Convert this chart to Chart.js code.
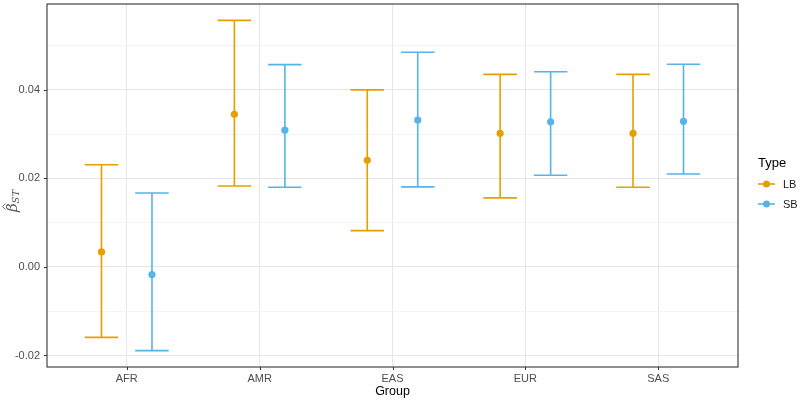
<!DOCTYPE html>
<html>
<head>
<meta charset="utf-8">
<script src="https://cdn.jsdelivr.net/npm/chart.js@4"></script>
<style>
html, body { margin: 0; padding: 0; background: #fff; }
#wrap { width: 800px; height: 402px; }
</style>
</head>
<body>
<div id="wrap"><canvas id="fstChart"></canvas></div>
<script>
// values
const groups = ['AFR', 'AMR', 'EAS', 'EUR', 'SAS'];
const lbMean = [0.0034, 0.0345, 0.0241, 0.0302, 0.0302];
const lbLower = [-0.0159, 0.0183, 0.0082, 0.0156, 0.0180];
const lbUpper = [0.0231, 0.0557, 0.0400, 0.0435, 0.0435];
const sbMean = [-0.0017, 0.0309, 0.0332, 0.0328, 0.0329];
const sbLower = [-0.0189, 0.0180, 0.0181, 0.0207, 0.0210];
const sbUpper = [0.0167, 0.0457, 0.0485, 0.0441, 0.0458];
const yTicks = [-0.02, -0.01, 0, 0.01, 0.02, 0.03, 0.04, 0.05];
const yLabelled = [-0.02, 0, 0.02, 0.04];

const dodge = 0.19;
const capHalf = 0.126;
const isMajor = v => Math.abs(Math.round(v * 100)) % 2 === 0;

function points(means, shift) {
    return means.map((m, i) => ({ x: i + 1 + shift, y: m }));
}

// whiskers + caps, drawn under the points
const errorBars = {
    id: 'errorBars',
    beforeDatasetsDraw(chart) {
        const { ctx, scales: { x, y } } = chart;
        chart.data.datasets.forEach(ds => {
            ctx.save();
            ctx.strokeStyle = ds.borderColor;
            ctx.lineWidth = 1.6;
            ds.data.forEach((pt, i) => {
                const px = x.getPixelForValue(pt.x);
                const l = x.getPixelForValue(pt.x - capHalf);
                const r = x.getPixelForValue(pt.x + capHalf);
                const top = y.getPixelForValue(ds.upper[i]);
                const bot = y.getPixelForValue(ds.lower[i]);
                ctx.beginPath();
                ctx.moveTo(px, top); ctx.lineTo(px, bot);
                ctx.moveTo(l, top); ctx.lineTo(r, top);
                ctx.moveTo(l, bot); ctx.lineTo(r, bot);
                ctx.stroke();
            });
            ctx.restore();
        });
    }
};

// panel border, tick marks, y title and the ggplot-like legend
const extras = {
    id: 'extras',
    afterDraw(chart) {
        const { ctx, chartArea: a, scales: { x, y } } = chart;
        ctx.save();
        ctx.strokeStyle = '#333333';
        ctx.lineWidth = 1.1;
        ctx.strokeRect(a.left, a.top, a.right - a.left, a.bottom - a.top);
        ctx.beginPath();
        x.ticks.forEach(t => {
            const px = Math.round(x.getPixelForValue(t.value)) + 0.5;
            ctx.moveTo(px, a.bottom); ctx.lineTo(px, a.bottom + 3);
        });
        yLabelled.forEach(v => {
            const py = Math.round(y.getPixelForValue(v)) + 0.5;
            ctx.moveTo(a.left - 3, py); ctx.lineTo(a.left, py);
        });
        ctx.lineWidth = 1;
        ctx.stroke();

        // y axis title: beta hat, subscript ST
        ctx.translate(13, 201);
        ctx.rotate(-Math.PI / 2);
        ctx.fillStyle = '#555555';
        ctx.strokeStyle = '#555555';
        ctx.textBaseline = 'middle';
        ctx.textAlign = 'left';
        ctx.font = 'italic 15px "DejaVu Serif"';
        const bw = ctx.measureText('β').width;
        ctx.font = 'italic 10px "DejaVu Serif"';
        const sw = ctx.measureText('ST').width;
        const start = -(bw + sw) / 2;
        ctx.font = 'italic 15px "DejaVu Serif"';
        ctx.fillText('β', start, 0);
        ctx.lineWidth = 0.9;
        ctx.beginPath();
        ctx.moveTo(start + 2.5, -7.5);
        ctx.lineTo(start + 5.5, -10.5);
        ctx.lineTo(start + 8.5, -7.5);
        ctx.stroke();
        ctx.font = 'italic 10px "DejaVu Serif"';
        ctx.fillText('ST', start + bw, 3.5);
        ctx.restore();

        ctx.save();
        ctx.fillStyle = '#000';
        ctx.textBaseline = 'middle';
        ctx.font = '13px "Liberation Sans"';
        ctx.fillText('Type', 758, 163);
        ctx.font = '11px "Liberation Sans"';
        chart.data.datasets.forEach((ds, i) => {
            const yy = 184 + i * 20;
            ctx.strokeStyle = ds.borderColor;
            ctx.lineWidth = 1.6;
            ctx.beginPath();
            ctx.moveTo(758, yy); ctx.lineTo(775, yy);
            ctx.stroke();
            ctx.fillStyle = ds.backgroundColor;
            ctx.beginPath();
            ctx.arc(766.5, yy, 3.5, 0, Math.PI * 2);
            ctx.fill();
            ctx.fillStyle = '#1a1a1a';
            ctx.fillText(ds.label, 783, yy + 0.5);
        });
        ctx.restore();
    }
};

function drawChart() {
    Chart.defaults.font.family = '"Liberation Sans", Arial, sans-serif';
    const ctx = document.getElementById('fstChart').getContext('2d');

    new Chart(ctx, {
        type: 'scatter',
        data: {
            datasets: [{
                label: 'LB',
                data: points(lbMean, -dodge),
                lower: lbLower,
                upper: lbUpper,
                backgroundColor: '#E69F00',
                borderColor: '#E69F00',
                pointRadius: 3.6,
                pointBorderWidth: 0
            }, {
                label: 'SB',
                data: points(sbMean, dodge),
                lower: sbLower,
                upper: sbUpper,
                backgroundColor: '#56B4E9',
                borderColor: '#56B4E9',
                pointRadius: 3.6,
                pointBorderWidth: 0
            }]
        },
        options: {
            responsive: true,
            maintainAspectRatio: false,
            animation: false,
            events: [],
            layout: { padding: { top: 4, right: 62, left: 0, bottom: 0 } },
            plugins: { legend: { display: false }, tooltip: { enabled: false } },
            scales: {
                x: {
                    type: 'linear',
                    min: 0.4,
                    max: 5.6,
                    afterBuildTicks: axis => {
                        axis.ticks = groups.map((g, i) => ({ value: i + 1 }));
                    },
                    afterFit: axis => {
                        axis.height = 35;
                        axis.paddingLeft = 0;
                        axis.paddingRight = 0;
                    },
                    border: { display: false },
                    grid: { color: '#e6e6e6', lineWidth: 1, drawTicks: false },
                    ticks: {
                        autoSkip: false,
                        maxRotation: 0,
                        padding: 5,
                        color: '#4d4d4d',
                        font: { size: 11 },
                        callback: v => groups[v - 1]
                    },
                    title: { display: true, text: 'Group', color: '#000', font: { size: 12.5 }, padding: { top: 2, bottom: 3 } }
                },
                y: {
                    min: -0.0226,
                    max: 0.0594,
                    afterBuildTicks: axis => {
                        axis.ticks = yTicks.map(v => ({ value: v }));
                    },
                    afterFit: axis => {
                        axis.width = 47;
                        axis.paddingTop = 0;
                        axis.paddingBottom = 0;
                    },
                    border: { display: false },
                    grid: {
                        color: c => isMajor(c.tick.value) ? '#e6e6e6' : '#f3f3f3',
                        lineWidth: 1,
                        drawTicks: false
                    },
                    ticks: {
                        autoSkip: false,
                        padding: 7,
                        color: '#4d4d4d',
                        font: { size: 11 },
                        callback: v => yLabelled.some(t => Math.abs(t - v) < 1e-9) ? v.toFixed(2) : ''
                    }
                }
            }
        },
        plugins: [errorBars, extras]
    });
}

document.addEventListener('DOMContentLoaded', () => {
    drawChart();
});
</script>
</body>
</html>
